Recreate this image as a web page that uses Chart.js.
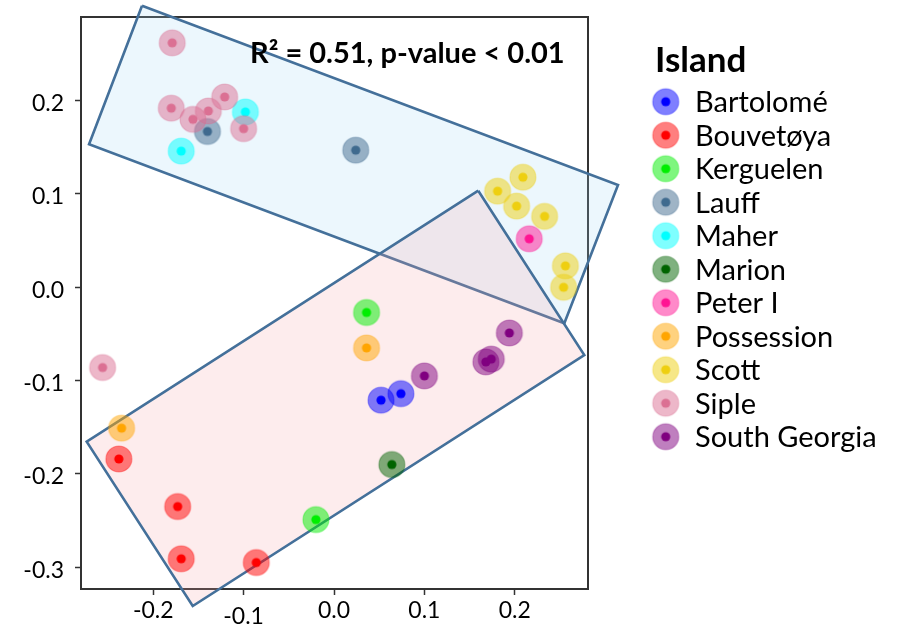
<!DOCTYPE html>
<html><head><meta charset="utf-8">
<script src="https://cdn.jsdelivr.net/npm/chart.js@4.4.1/dist/chart.umd.min.js"></script>
<style>html,body{margin:0;padding:0;background:#fff;overflow:hidden}canvas{display:block}</style>
</head><body>
<canvas id="c" width="905" height="627"></canvas>
<script>
// ---------- data ----------
const islands = ['Bartolomé','Bouvetøya','Kerguelen','Lauff','Maher','Marion','Peter I','Possession','Scott','Siple','South Georgia'];
const islandColors = ['#0000ff','#ff0000','#00ee00','#3f6a8e','#00ffff','#006400','#ff1493','#ffa500','#eecf10','#db7093','#800080'];

const bartolome    = [[0.052,-0.121],[0.074,-0.114]];
const bouvetoya    = [[-0.238,-0.184],[-0.173,-0.235],[-0.169,-0.291],[-0.086,-0.295]];
const kerguelen    = [[0.036,-0.027],[-0.020,-0.249]];
const lauff        = [[-0.140,0.167],[0.024,0.147]];
const maher        = [[-0.098,0.188],[-0.169,0.146]];
const marion       = [[0.064,-0.190]];
const peterI       = [[0.216,0.052]];
const possession   = [[0.036,-0.065],[-0.235,-0.151]];
const scott        = [[0.209,0.118],[0.181,0.103],[0.202,0.087],[0.233,0.076],[0.256,0.023],[0.254,0.000]];
const siple        = [[-0.179,0.262],[-0.180,0.192],[-0.156,0.180],[-0.139,0.189],[-0.121,0.204],[-0.100,0.170],[-0.256,-0.086]];
const southGeorgia = [[0.194,-0.049],[0.100,-0.095],[0.168,-0.080],[0.174,-0.077]];
const islandPoints = [bartolome,bouvetoya,kerguelen,lauff,maher,marion,peterI,possession,scott,siple,southGeorgia];

// the two boxes (corners, data units)
const upperBoxX = [-0.2124, 0.3142, 0.2548, -0.2710];
const upperBoxY = [ 0.3017, 0.1096,-0.0386,  0.1533];
const lowerBoxX = [ 0.1596, 0.2769,-0.1563, -0.2736];
const lowerBoxY = [ 0.1035,-0.0726,-0.3416, -0.1655];

const xTicks = [-0.2,-0.1,0.0,0.1,0.2];
const yTicks = [-0.3,-0.2,-0.1,0.0,0.1,0.2];
const xRange = [-0.2799, 0.2810];
const yRange = [-0.3234, 0.2897];
const annotationText = 'R\u00B2 = 0.51, p-value < 0.01';
const legendTitle = 'Island';

// ---------- styling helpers ----------
function hexToRgb(h){h=h.replace('#','');return [parseInt(h.slice(0,2),16),parseInt(h.slice(2,4),16),parseInt(h.slice(4,6),16)];}
function marker(color){
  const s=30,c=document.createElement('canvas');c.width=s;c.height=s;
  const g=c.getContext('2d');const [r,gg,b]=hexToRgb(color);
  g.beginPath();g.arc(s/2,s/2,13,0,Math.PI*2);
  g.fillStyle=`rgba(${r},${gg},${b},0.5)`;g.fill();
  g.lineWidth=1.2;g.strokeStyle=`rgba(${r},${gg},${b},0.35)`;g.stroke();
  g.beginPath();g.arc(s/2,s/2,4.6,0,Math.PI*2);g.fillStyle=color;g.fill();
  return c;
}
const markers = islandColors.map(marker);
const closed = (xs,ys) => xs.concat([xs[0]]).map((x,i)=>({x, y: ys.concat([ys[0]])[i]}));

const pointDatasets = islands.map((name,i)=>({
  label:name,
  data: islandPoints[i].map(p=>({x:p[0],y:p[1]})),
  pointStyle: markers[i], pointRadius: 13, pointHoverRadius: 13,
  order: 20 - i
}));
const edge = '#44709a';
const boxDatasets = [
  {label:'upperBox', data: closed(upperBoxX,upperBoxY), showLine:true, fill:'shape',
   backgroundColor:'rgba(160,215,245,0.2)', borderColor:edge, borderWidth:2.6, pointRadius:0, clip:false, order:100},
  {label:'lowerBox', data: closed(lowerBoxX,lowerBoxY), showLine:true, fill:'shape',
   backgroundColor:'rgba(245,160,165,0.2)', borderColor:edge, borderWidth:2.6, pointRadius:0, clip:false, order:99}
];

function plotArea(chart){ const x=chart.scales.x,y=chart.scales.y; return {left:x.left,right:x.right,top:y.top,bottom:y.bottom}; }

const frame = {
  id:'frame',
  beforeDatasetsDraw(chart){ const a=plotArea(chart),ctx=chart.ctx;
    ctx.save();ctx.strokeStyle='#333';ctx.lineWidth=2;ctx.strokeRect(a.left,a.top,a.right-a.left,a.bottom-a.top);ctx.restore(); }
};
// let the box fills spill outside the plot frame as in the reference
const fullAreaFill = {
  id:'fullAreaFill',
  beforeDatasetsDraw(chart){ chart._savedArea = chart.chartArea;
    chart.chartArea = {left:0, top:0, right:chart.width, bottom:chart.height, width:chart.width, height:chart.height}; },
  afterDatasetsDraw(chart){ if(chart._savedArea){ chart.chartArea = chart._savedArea; chart._savedArea=null; } }
};
const annotation = {
  id:'annotation',
  afterDatasetsDraw(chart){ const ctx=chart.ctx, a=plotArea(chart);
    ctx.save();ctx.font='bold 29px Lato';ctx.fillStyle='#000';ctx.textBaseline='alphabetic';ctx.textAlign='left';
    ctx.fillText(annotationText, a.left+169, 63);ctx.restore(); }
};
const sideLegend = {
  id:'sideLegend',
  afterDraw(chart){ const ctx=chart.ctx;
    ctx.save();ctx.fillStyle='#000';ctx.textAlign='left';ctx.textBaseline='alphabetic';
    ctx.font='bold 35px Lato';ctx.fillText(legendTitle,655,72);
    ctx.font='29px Lato';
    islands.forEach((name,i)=>{ const cy=101.7+i*33.5;
      ctx.drawImage(markers[i],665.7-15,cy-15);
      ctx.fillText(name,695,cy+10.4); });
    ctx.restore(); }
};

new Chart(document.getElementById('c'),{
  type:'scatter',
  data:{datasets:[...pointDatasets,...boxDatasets]},
  options:{
    responsive:false, animation:false, devicePixelRatio:1,
    layout:{padding:{left:0,top:17,right:317,bottom:0}},
    plugins:{legend:{display:false},tooltip:{enabled:false}},
    elements:{line:{tension:0,borderJoinStyle:'miter'}},
    scales:{
      x:{type:'linear',min:xRange[0],max:xRange[1],
        afterBuildTicks:s=>{s.ticks=xTicks.map(v=>({value:v}));},
        afterFit:s=>{s.height=38;s.paddingLeft=0;s.paddingRight=0;},
        ticks:{color:'#000',padding:2,maxRotation:0,
          font:c=>({family:'Lato',size:23,lineHeight:(c.tick&&Math.abs(c.tick.value+0.1)<1e-9)?1.7:1.2}),
          callback:v=>(Math.abs(v)<1e-9?0:v).toFixed(1)},
        grid:{display:true,drawOnChartArea:false,drawTicks:true,tickLength:6,tickColor:'#333',tickWidth:1.5},
        border:{display:true,color:'#333',width:2}},
      y:{type:'linear',min:yRange[0],max:yRange[1],
        afterBuildTicks:s=>{s.ticks=yTicks.map(v=>({value:v}));},
        afterFit:s=>{s.width=81;s.paddingTop=0;s.paddingBottom=0;},
        ticks:{color:'#000',padding:11,labelOffset:3,font:{family:'Lato',size:23},
          callback:v=>(Math.abs(v)<1e-9?0:v).toFixed(1)},
        grid:{display:true,drawOnChartArea:false,drawTicks:true,tickLength:6,tickColor:'#333',tickWidth:1.5},
        border:{display:true,color:'#333',width:2}}
    }
  },
  plugins:[frame,fullAreaFill,annotation,sideLegend]
});
</script>
</body></html>
